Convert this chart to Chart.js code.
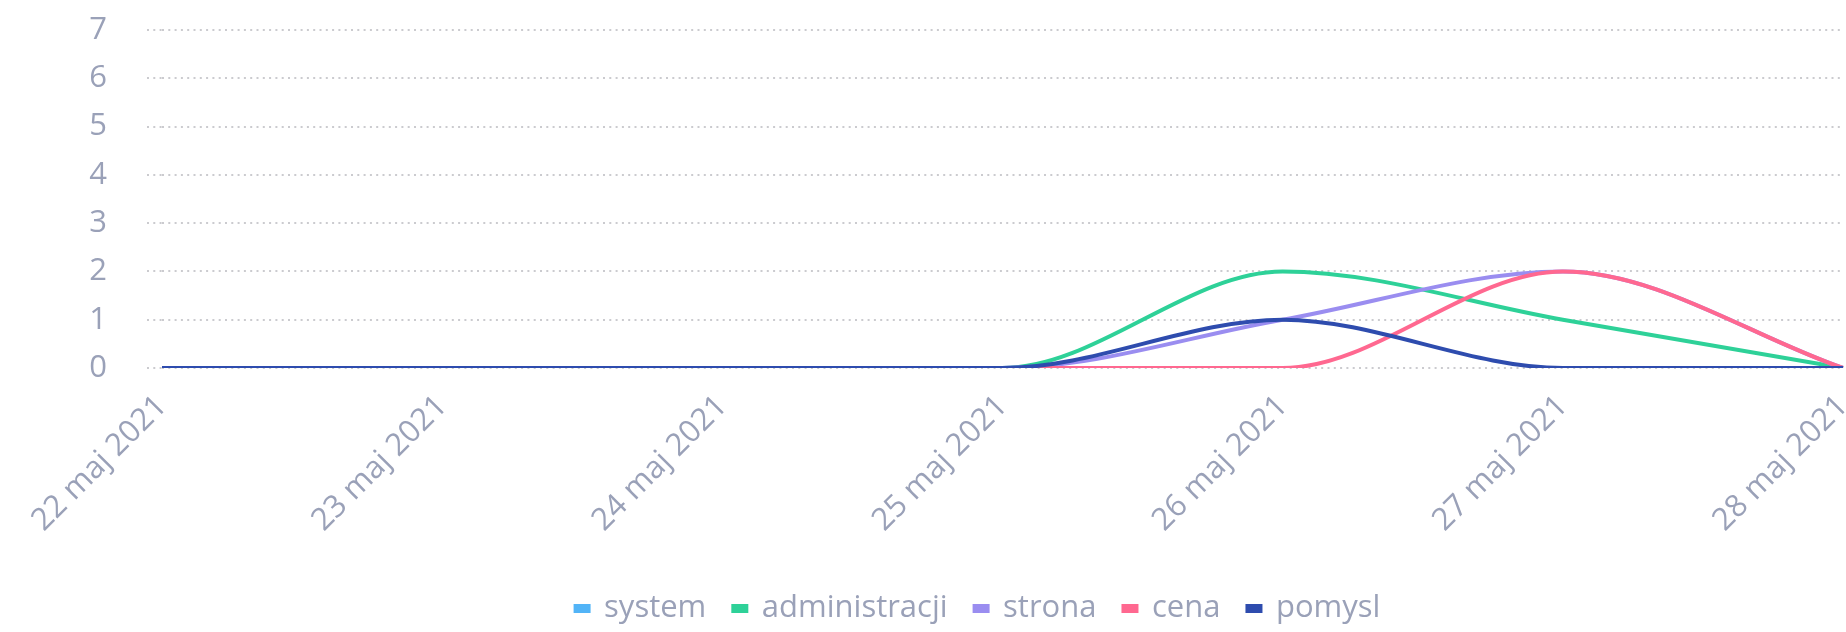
<!DOCTYPE html>
<html>
<head>
<meta charset="utf-8">
<script src="https://cdn.jsdelivr.net/npm/chart.js@4/dist/chart.umd.min.js"></script>
<style>
  html, body { margin: 0; padding: 0; background: #fff; }
  #wrap { position: relative; width: 1846px; height: 632px; }
</style>
</head>
<body>
<div id="wrap"><canvas id="trendChart"></canvas></div>
<script>
// daily counts per keyword (system has no entries in this range)
var dayLabels = ["22 maj 2021", "23 maj 2021", "24 maj 2021", "25 maj 2021", "26 maj 2021", "27 maj 2021", "28 maj 2021"];
var systemValues = [null, null, null, null, null, null, null];
var administracjiValues = [0, 0, 0, 0, 2, 1, 0];
var stronaValues = [0, 0, 0, 0, 1, 2, 0];
var cenaValues = [0, 0, 0, 0, 0, 2, 0];
var pomyslValues = [0, 0, 0, 0, 1, 0, 0];
var yTicks = [0, 1, 2, 3, 4, 5, 6, 7];

var textColor = "#9aa1b8";
var gridColor = "#cbcbcf";
var fontFamily = "'Open Sans', sans-serif";

function series(label, data, color, order) {
  return {
    label: label,
    data: data,
    borderColor: color,
    backgroundColor: color,
    borderWidth: 4,
    pointRadius: 0,
    pointHoverRadius: 0,
    fill: false,
    cubicInterpolationMode: "monotone",
    order: order
  };
}

// nudge the legend row a bit to the right of the canvas centre
var legendShift = {
  id: "legendShift",
  afterLayout: function(chart) {
    chart.legend.left += 55;
    chart.legend.right += 55;
  }
};

new Chart("trendChart", {
  type: "line",
  data: {
    labels: dayLabels,
    datasets: [
      series("system", systemValues, "#52b4f7", 5),
      series("administracji", administracjiValues, "#2ed198", 4),
      series("strona", stronaValues, "#9a8df0", 3),
      series("cena", cenaValues, "#ff6890", 2),
      series("pomysl", pomyslValues, "#2e4cae", 1)
    ]
  },
  plugins: [legendShift],
  options: {
    responsive: true,
    maintainAspectRatio: false,
    animation: false,
    layout: {
      padding: {top: 30, right: 0, bottom: -2, left: 0}
    },
    plugins: {
      tooltip: {enabled: false},
      legend: {
        position: "bottom",
        labels: {
          color: textColor,
          font: {family: fontFamily, size: 31},
          boxWidth: 13,
          boxHeight: 5,
          padding: 27,
          sort: function(a, b) { return a.datasetIndex - b.datasetIndex; }
        }
      }
    },
    scales: {
      x: {
        grid: {display: false, drawTicks: false},
        border: {display: false},
        ticks: {
          color: textColor,
          font: {family: fontFamily, size: 31},
          minRotation: 45,
          maxRotation: 45,
          padding: 20
        },
        afterFit: function(scale) {
          scale.paddingLeft = 0;
          scale.paddingRight = 3;
          scale.height = 198;
        }
      },
      y: {
        min: 0,
        max: 7,
        grid: {
          color: gridColor,
          lineWidth: 2,
          tickLength: 15,
          tickColor: gridColor,
          tickWidth: 2,
          tickBorderDash: [2, 4.3]
        },
        border: {display: false, dash: [2, 4.3]},
        afterBuildTicks: function(scale) {
          scale.ticks = yTicks.map(function(v) { return {value: v}; });
        },
        afterFit: function(scale) {
          scale.width = 162;
          scale.paddingTop = 0;
        },
        ticks: {
          color: textColor,
          font: {family: fontFamily, size: 31},
          padding: 40
        }
      }
    }
  }
});
</script>
</body>
</html>
